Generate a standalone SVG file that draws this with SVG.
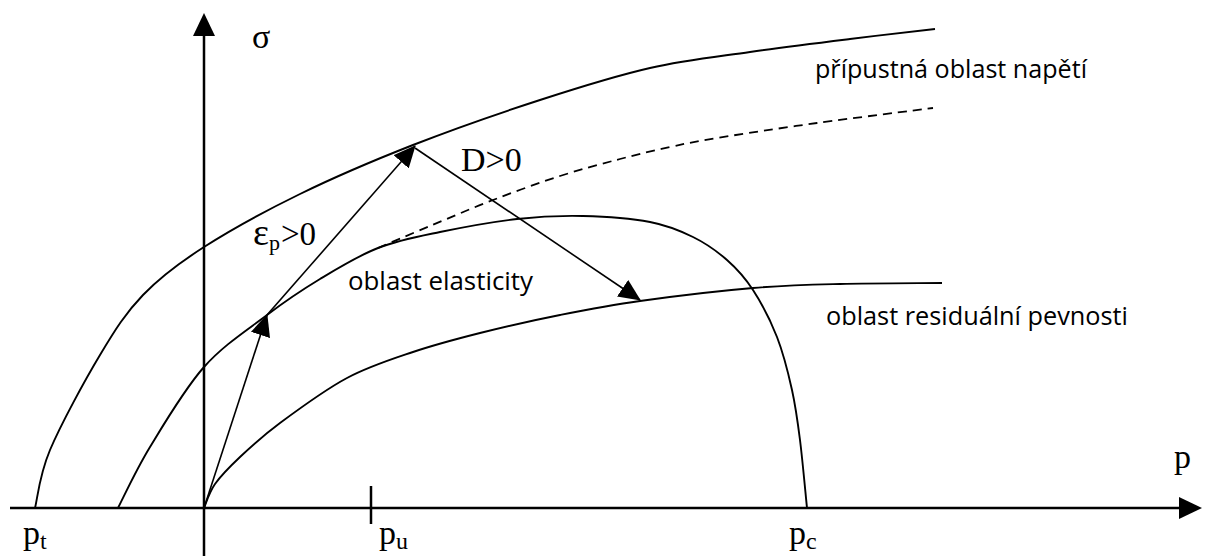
<svg xmlns="http://www.w3.org/2000/svg" width="1213" height="556" viewBox="0 0 1213 556">
<style>
.axis{stroke:#000;stroke-width:2.5;fill:none}
.curve{stroke:#000;stroke-width:1.9;fill:none}
.dash{stroke:#000;stroke-width:1.8;fill:none;stroke-dasharray:9 6}
.arr{stroke:#000;stroke-width:1.6;fill:none;marker-end:url(#ah)}
.serif{font-family:"Liberation Serif","Times New Roman",serif;fill:#000}
.sans{font-family:"Open Sans","Noto Sans","Liberation Sans",sans-serif;font-size:25px;fill:#000}
</style>
<defs>
<marker id="ah" viewBox="0 0 22 20" refX="21" refY="10" markerWidth="22" markerHeight="20" markerUnits="userSpaceOnUse" orient="auto">
<path d="M0,0 L22,10 L0,20 z" fill="#000"/>
</marker>
</defs>
<rect width="1213" height="556" fill="#fff"/>
<g id="axes">
<line class="axis" x1="204" y1="556" x2="204" y2="30"/>
<polygon points="204,13 193,36 215,36" fill="#000"/>
<line class="axis" x1="10" y1="508" x2="1185" y2="508"/>
<polygon points="1202,508 1179,497 1179,519" fill="#000"/>
<line class="axis" x1="371" y1="486" x2="371" y2="524" stroke-width="2"/>
</g>
<g id="curve-outer">
<path class="curve" d="M35,508 C37.5,498.3 39.2,475.5 50,450 C60.8,424.5 84.5,380.8 100,355 C115.5,329.2 125.7,313 143,295 C160.3,277 177.8,263.8 204,247 C230.2,230.2 265.2,211 300,194 C334.8,177 373,160.7 413,145 C453,129.3 500.5,112.8 540,100 C579.5,87.2 615,76 650,68 C685,60 716.7,56.8 750,52 C783.3,47.2 819.2,42.8 850,39 C880.8,35.2 920.8,30.7 935,29"/>
</g>
<g id="curve-elastic">
<path class="curve" d="M118,508 C123.3,497.8 135.7,470.5 150,447 C164.3,423.5 184.5,389 204,367 C223.5,345 247.7,329.7 267,315 C286.3,300.3 301.5,290.2 320,279 C338.5,267.8 358,255.8 378,248 C398,240.2 416.8,236.8 440,232 C463.2,227.2 493.2,221.7 517,219 C540.8,216.3 560.8,215.5 583,216 C605.2,216.5 631.7,218.5 650,222 C668.3,225.5 680.2,230.7 693,237 C705.8,243.3 717,251.2 727,260 C737,268.8 744.7,277.2 753,290 C761.3,302.8 770.5,320.3 777,337 C783.5,353.7 788.2,372.8 792,390 C795.8,407.2 797.5,420.3 800,440 C802.5,459.7 805.8,496.7 807,508"/>
</g>
<g id="curve-dashed">
<path class="dash" d="M378,248 C386.7,244.3 410.8,234 430,226 C449.2,218 471.3,208.3 493,200 C514.7,191.7 538.8,182.8 560,176 C581.2,169.2 601.7,163.8 620,159 C638.3,154.2 653.8,150.5 670,147 C686.2,143.5 692.5,142 717,138 C741.5,134 781,128 817,123 C853,118 913.7,110.5 933,108"/>
</g>
<g id="curve-residual">
<path class="curve" d="M204,508 C205.8,504 209,492.5 215,484 C221,475.5 229.2,467.2 240,457 C250.8,446.8 262.2,436.2 280,423 C297.8,409.8 324.8,389.8 347,378 C369.2,366.2 390.8,359.5 413,352 C435.2,344.5 455.5,339.2 480,333 C504.5,326.8 533.3,320.3 560,315 C586.7,309.7 607.8,305.5 640,301 C672.2,296.5 719.7,290.8 753,288 C786.3,285.2 808.5,284.8 840,284 C871.5,283.2 925,283.2 942,283"/>
</g>
<g id="connectors">
<line class="arr" x1="204" y1="508" x2="267" y2="315"/>
<line class="arr" x1="267" y1="315" x2="415" y2="146"/>
<line class="arr" x1="415" y1="148" x2="640" y2="300"/>
</g>
<g id="labels">
<text class="serif" x="252" y="48" font-size="34">σ</text>
<text class="serif" x="1174" y="468" font-size="34">p</text>
<text class="serif" x="23" y="544" font-size="34">p<tspan font-size="24" dy="5">t</tspan></text>
<text class="serif" x="379" y="544" font-size="34">p<tspan font-size="24" dy="5">u</tspan></text>
<text class="serif" x="789" y="544" font-size="34">p<tspan font-size="24" dy="5">c</tspan></text>
<text class="serif" x="253" y="245" font-size="38">ε<tspan font-size="22" dy="5">p</tspan><tspan x="281" dy="-5" font-size="33">&gt;0</tspan></text>
<text class="serif" x="461" y="171" font-size="34">D&gt;0</text>
<text class="sans" x="815" y="78" textLength="272" lengthAdjust="spacingAndGlyphs">přípustná oblast napětí</text>
<text class="sans" x="348" y="290" textLength="185" lengthAdjust="spacingAndGlyphs">oblast elasticity</text>
<text class="sans" x="826" y="325" textLength="302" lengthAdjust="spacingAndGlyphs">oblast residuální pevnosti</text>
</g>
</svg>
